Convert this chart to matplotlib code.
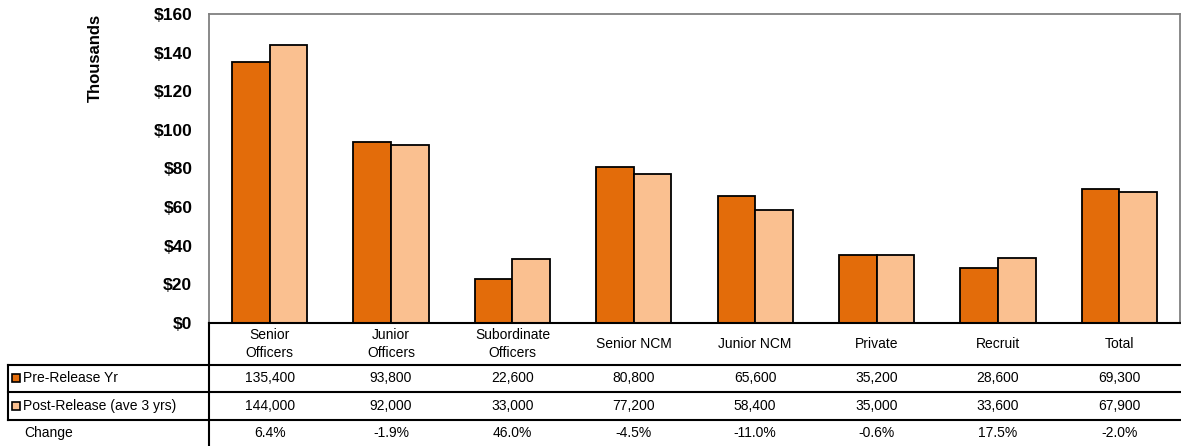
import matplotlib
matplotlib.use("Agg")
import matplotlib.pyplot as plt
import numpy as np
from matplotlib.patches import Rectangle
from matplotlib.lines import Line2D
from matplotlib.ticker import FuncFormatter

plt.rcParams["font.family"] = ["Liberation Sans", "DejaVu Sans"]

categories = ["Senior\nOfficers", "Junior\nOfficers", "Subordinate\nOfficers", "Senior NCM",
              "Junior NCM", "Private", "Recruit", "Total"]
pre_release = [135400, 93800, 22600, 80800, 65600, 35200, 28600, 69300]
post_release = [144000, 92000, 33000, 77200, 58400, 35000, 33600, 67900]
change = ["6.4%", "-1.9%", "46.0%", "-4.5%", "-11.0%", "-0.6%", "17.5%", "-2.0%"]
series_names = ["Pre-Release Yr", "Post-Release (ave 3 yrs)"]

dark = "#E36C0A"
light = "#FAC090"

W, H = 1181, 446
fig = plt.figure(figsize=(W / 100, H / 100), dpi=100)

# plot area in pixel coords
x0, x1, ytop, ybot = 209, 1180, 14, 323
ax = fig.add_axes([x0 / W, 1 - ybot / H, (x1 - x0) / W, (ybot - ytop) / H])

x = np.arange(len(categories))
bw = 0.31
ax.bar(x - bw / 2, np.array(pre_release) / 1000, bw, color=dark, edgecolor="black", linewidth=1.3)
ax.bar(x + bw / 2, np.array(post_release) / 1000, bw, color=light, edgecolor="black", linewidth=1.3)

ax.set_xlim(-0.5, len(categories) - 0.5)
ax.set_ylim(0, 160)
ax.set_yticks(range(0, 161, 20))
ax.yaxis.set_major_formatter(FuncFormatter(lambda v, p: f"${v:.0f}"))
for lab in ax.get_yticklabels():
    lab.set_fontweight("bold")
    lab.set_fontsize(12.5)
ax.tick_params(axis="y", length=0, pad=12)
ax.tick_params(axis="x", length=0, labelbottom=False)
for side in ["top", "left", "right"]:
    ax.spines[side].set_color("#808080")
    ax.spines[side].set_linewidth(1.3)
ax.spines["bottom"].set_color("black")
ax.spines["bottom"].set_linewidth(1.5)


def fy(py):
    return 1 - py / H


def fx(px):
    return px / W


fig.text(fx(95), fy(58), "Thousands", rotation=90, ha="center", va="center",
         fontweight="bold", fontsize=12)

# table text, x positions from the axes data scale
trans = ax.get_xaxis_transform()
row_y = [344, 378, 406, 433]
for i, cat in enumerate(categories):
    ax.text(i, -(row_y[0] - ybot) / (ybot - ytop), cat, transform=trans, ha="center",
            va="center", fontsize=10, linespacing=1.35, clip_on=False)
    for r, val in zip(row_y[1:], [f"{pre_release[i]:,}", f"{post_release[i]:,}", change[i]]):
        ax.text(i, -(r - ybot) / (ybot - ytop), val, transform=trans, ha="center", va="center",
                fontsize=10, clip_on=False)

# row labels and legend keys
for r, name, col in zip(row_y[1:3], series_names, [dark, light]):
    fig.patches.append(Rectangle((fx(12), fy(r + 4)), 8 / W, 8 / H, transform=fig.transFigure,
                                 facecolor=col, edgecolor="black", linewidth=1.2))
    fig.text(fx(23), fy(r), name, ha="left", va="center", fontsize=10)
fig.text(fx(24), fy(row_y[3]), "Change", ha="left", va="center", fontsize=10)

# table grid lines
for py in [365, 392, 420]:
    fig.lines.append(Line2D([fx(8), fx(1181)], [fy(py), fy(py)], transform=fig.transFigure,
                            color="black", linewidth=1.5))
fig.lines.append(Line2D([fx(x0), fx(x0)], [fy(ybot), fy(446)], transform=fig.transFigure,
                        color="black", linewidth=1.5))
fig.lines.append(Line2D([fx(8), fx(8)], [fy(365), fy(420)], transform=fig.transFigure,
                        color="black", linewidth=1.5))

fig.savefig("out.png", dpi=100)
